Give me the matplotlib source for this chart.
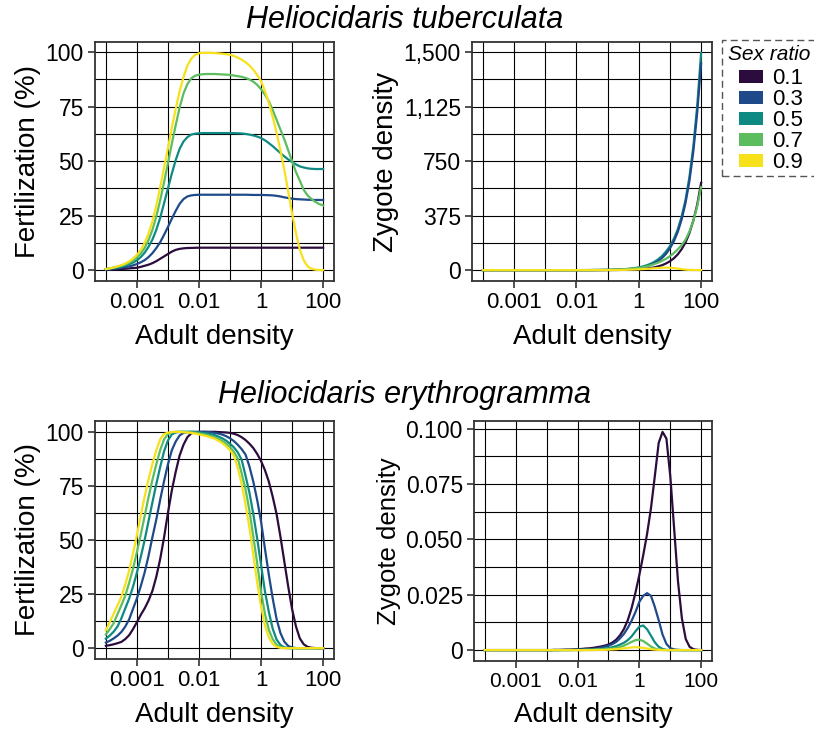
import matplotlib.pyplot as plt
import numpy as np
from matplotlib.patches import Patch, Rectangle
from matplotlib.ticker import FixedLocator, NullFormatter

plt.rcParams['font.family'] = ['Liberation Sans', 'DejaVu Sans']

# log10 de la densidad de adultos donde se leyeron los valores (paso de 1/8 de decada)
log_densidad = [-5, -4.875, -4.75, -4.625, -4.5, -4.375, -4.25, -4.125,
                -4, -3.875, -3.75, -3.625, -3.5, -3.375, -3.25, -3.125,
                -3, -2.875, -2.75, -2.625, -2.5, -2.375, -2.25, -2.125,
                -2, -1.875, -1.75, -1.625, -1.5, -1.375, -1.25, -1.125,
                -1, -0.875, -0.75, -0.625, -0.5, -0.375, -0.25, -0.125,
                0, 0.125, 0.25, 0.375, 0.5, 0.625, 0.75, 0.875,
                1, 1.125, 1.25, 1.375, 1.5, 1.625, 1.75, 1.875, 2]

proporcion_sexos = ['0.1', '0.3', '0.5', '0.7', '0.9']
colores = ['#2b0c3d', '#1f4a8a', '#0f8a83', '#5cbd5f', '#f7e11b']

# Heliocidaris tuberculata - fertilizacion (%)
tub_fert_01 = [0.2, 0.25, 0.3, 0.4, 0.5, 0.65, 0.8, 0.95,
               1.1, 1.5, 2.0, 2.5, 3.2, 4.1, 5.2, 6.3,
               7.4, 8.5, 9.3, 9.75, 10.0, 10.15, 10.2, 10.25,
               10.3, 10.3, 10.3, 10.3, 10.3, 10.3, 10.3, 10.3,
               10.3, 10.3, 10.3, 10.3, 10.3, 10.3, 10.3, 10.3,
               10.3, 10.3, 10.3, 10.3, 10.3, 10.3, 10.3, 10.3,
               10.3, 10.3, 10.3, 10.3, 10.3, 10.3, 10.3, 10.3, 10.3]
tub_fert_03 = [0.3, 0.4, 0.6, 0.8, 1.1, 1.4, 1.7, 2.2,
               2.8, 3.6, 4.6, 6.0, 7.8, 10.1, 12.8, 16.2,
               19.8, 23.6, 27.2, 30.4, 32.6, 33.8, 34.3, 34.5,
               34.6, 34.6, 34.6, 34.6, 34.6, 34.6, 34.6, 34.6,
               34.6, 34.6, 34.6, 34.6, 34.6, 34.55, 34.5, 34.5,
               34.5, 34.45, 34.4, 34.3, 34.1, 33.8, 33.4, 33.1,
               32.8, 32.6, 32.5, 32.4, 32.3, 32.25, 32.2, 32.2, 32.2]
tub_fert_05 = [0.5, 0.7, 1.0, 1.2, 1.6, 2.1, 2.7, 3.5,
               4.5, 6.0, 8.0, 10.7, 14.0, 18.5, 24.0, 30.7,
               37.5, 44.3, 50.5, 55.6, 59.0, 61.0, 62.2, 62.6,
               62.8, 62.9, 62.9, 62.9, 62.9, 62.9, 62.9, 62.9,
               62.9, 62.85, 62.8, 62.7, 62.5, 62.2, 61.8, 61.3,
               60.6, 59.6, 58.3, 56.9, 55.3, 53.7, 52.2, 50.8,
               49.6, 48.5, 47.6, 47.1, 46.7, 46.5, 46.4, 46.4, 46.4]
tub_fert_07 = [0.5, 0.8, 1.2, 1.6, 2.0, 2.6, 3.4, 4.4,
               5.8, 7.6, 10.2, 13.8, 18.5, 24.6, 32.0, 40.3,
               49.0, 58.0, 66.5, 74.5, 81.0, 85.3, 88.0, 89.2,
               89.7, 89.9, 90.0, 90.0, 90.0, 89.9, 89.8, 89.7,
               89.6, 89.3, 89.0, 88.7, 88.2, 87.5, 86.5, 85.0,
               83.0, 80.5, 77.5, 73.5, 69.0, 64.5, 60.0, 55.0,
               50.0, 45.0, 41.0, 36.8, 34.3, 32.6, 31.3, 30.3, 29.7]
tub_fert_09 = [0.5, 0.8, 1.2, 1.7, 2.3, 3.0, 4.0, 5.3,
               7.0, 9.3, 12.5, 16.8, 22.4, 29.6, 38.0, 47.0,
               56.0, 65.3, 74.0, 82.0, 88.5, 93.8, 97.0, 98.8,
               99.5, 99.7, 99.7, 99.7, 99.6, 99.5, 99.3, 99.1,
               98.8, 98.3, 97.5, 96.6, 95.4, 93.9, 92.0, 89.6,
               86.7, 82.2, 76.7, 70.3, 63.0, 54.8, 46.0, 36.0,
               26.0, 17.0, 9.3, 4.5, 1.7, 0.6, 0.2, 0.05, 0.0]

# Heliocidaris tuberculata - densidad de cigotos
tub_cig_01 = [0, 0, 0, 0, 0, 0, 0, 0,
              0, 0, 0, 0, 0, 0, 0, 0,
              0, 0, 0, 0, 0, 0, 0, 0,
              0.1, 0.1, 0.1, 0.15, 0.2, 0.3, 0.4, 0.5,
              0.6, 0.8, 1.1, 1.5, 1.9, 2.5, 3.4, 4.5,
              6, 8.1, 11, 14.5, 19, 26, 34, 46,
              61, 81, 108, 144, 190, 255, 340, 450, 600]
tub_cig_03 = [0, 0, 0, 0, 0, 0, 0, 0,
              0, 0, 0, 0, 0, 0, 0, 0,
              0, 0, 0, 0, 0.1, 0.1, 0.1, 0.15,
              0.2, 0.25, 0.3, 0.4, 0.5, 0.7, 0.9, 1.2,
              1.5, 2.0, 2.7, 3.5, 4.6, 6.2, 8.2, 11,
              15, 20, 26, 36, 48, 63, 84, 112,
              150, 198, 262, 348, 462, 613, 815, 1082, 1420]
tub_cig_05 = [0, 0, 0, 0, 0, 0, 0, 0,
              0, 0, 0, 0, 0, 0, 0, 0,
              0, 0, 0, 0, 0.1, 0.1, 0.15, 0.2,
              0.2, 0.3, 0.35, 0.45, 0.6, 0.8, 1.1, 1.4,
              1.9, 2.5, 3.4, 4.5, 6.0, 8.0, 10.6, 14.2,
              19, 25, 33, 43.5, 57, 75, 98, 128,
              165, 215, 280, 368, 483, 640, 850, 1128, 1495]
tub_cig_07 = [0, 0, 0, 0, 0, 0, 0, 0,
              0, 0, 0, 0, 0, 0, 0, 0,
              0, 0, 0, 0, 0.05, 0.07, 0.1, 0.13,
              0.17, 0.23, 0.3, 0.4, 0.55, 0.72, 0.97, 1.3,
              1.73, 2.3, 3.05, 4.05, 5.4, 7.1, 9.4, 12.4,
              16, 20.6, 26.2, 33.2, 42, 52, 64, 78,
              96, 117, 143, 172, 209, 265, 339, 438, 572]
tub_cig_09 = [0, 0, 0, 0, 0, 0, 0, 0,
              0, 0, 0, 0, 0, 0, 0, 0,
              0, 0, 0, 0, 0, 0, 0, 0,
              0.06, 0.08, 0.11, 0.15, 0.2, 0.27, 0.35, 0.47,
              0.63, 0.83, 1.1, 1.46, 1.94, 2.5, 3.3, 4.3,
              5.6, 7.1, 8.8, 10.8, 12.8, 14.8, 16.6, 17.3,
              16.7, 14.5, 10.6, 6.8, 3.4, 1.6, 0.9, 0.5, 0.3]

# Heliocidaris erythrogramma - fertilizacion (%)
ery_fert_01 = [1.1, 1.4, 1.8, 2.3, 2.9, 4.2, 6.0, 8.8,
               12.0, 15.4, 18.4, 22.0, 26.5, 33.0, 41.2, 51.2,
               62.5, 72.9, 81.5, 89.0, 94.0, 97.5, 99.3, 99.8,
               99.9, 100, 100, 100, 100, 99.9, 99.8, 99.7,
               99.5, 99.1, 98.5, 97.5, 96.2, 94.5, 92.5, 89.8,
               86.5, 82.3, 77.0, 70.0, 62.0, 51.5, 40.0, 28.5,
               18.0, 10.0, 4.5, 1.8, 0.6, 0.2, 0.05, 0.0, 0.0]
ery_fert_03 = [2.6, 3.4, 4.5, 5.8, 7.5, 10.0, 13.3, 18.2,
               23.0, 28.7, 35.0, 42.7, 51.3, 59.5, 68.6, 77.2,
               85.0, 91.5, 95.5, 98.3, 99.5, 99.9, 100, 100,
               100, 100, 99.9, 99.8, 99.5, 99.2, 98.7, 98.0,
               97.0, 95.7, 94.0, 92.0, 89.5, 84.0, 77.0, 68.5,
               58.5, 46.0, 34.0, 23.0, 13.5, 7.0, 3.0, 1.0,
               0.3, 0.05, 0, 0, 0, 0, 0, 0, 0]
ery_fert_05 = [4.4, 5.8, 7.6, 10.0, 13.8, 18.4, 22.9, 28.4,
               34.9, 42.2, 50.0, 58.7, 67.4, 75.9, 83.7, 91.0,
               96.0, 98.8, 99.7, 100, 100, 100, 100, 99.9,
               99.7, 99.5, 99.3, 99.0, 98.5, 97.8, 97.0, 95.9,
               94.5, 92.8, 90.5, 87.1, 79.7, 71.9, 62.0, 50.7,
               38.5, 26.3, 16.8, 9.0, 4.0, 1.5, 0.4, 0.1,
               0.02, 0, 0, 0, 0, 0, 0, 0, 0]
ery_fert_07 = [6.3, 8.8, 11.5, 15.7, 19.9, 24.2, 30.2, 36.7,
               44.4, 52.5, 61.1, 69.8, 77.8, 85.0, 91.5, 96.5,
               99.0, 99.8, 100, 100, 100, 99.9, 99.8, 99.6,
               99.3, 99.0, 98.6, 98.1, 97.5, 96.7, 95.8, 94.5,
               93.0, 90.7, 87.7, 80.8, 73.4, 63.7, 51.6, 39.4,
               26.1, 15.9, 8.5, 4.2, 1.6, 0.5, 0.1, 0.0,
               0, 0, 0, 0, 0, 0, 0, 0, 0]
ery_fert_09 = [8.3, 12.0, 15.9, 19.8, 23.8, 29.4, 35.9, 43.8,
               52.2, 61.5, 70.1, 78.1, 85.2, 91.5, 96.5, 99.0,
               99.6, 99.9, 100, 100, 99.8, 99.7, 99.5, 99.2,
               98.8, 98.4, 98.0, 97.4, 96.8, 95.9, 94.8, 93.3,
               91.5, 89.0, 83.3, 75.9, 66.4, 55.8, 43.3, 30.3,
               19.4, 10.5, 5.0, 2.0, 0.6, 0.15, 0.03, 0.0,
               0, 0, 0, 0, 0, 0, 0, 0, 0]

# Heliocidaris erythrogramma - densidad de cigotos
ery_cig_01 = [0, 0, 0, 0, 0, 0, 0, 0,
              0, 0, 0, 0, 0, 0, 0, 0,
              0, 0, 0.0001, 0.0001, 0.0001, 0.0002, 0.0002, 0.0003,
              0.0004, 0.0005, 0.0007, 0.0008, 0.001, 0.0013, 0.0016, 0.002,
              0.0025, 0.0034, 0.0047, 0.0067, 0.0095, 0.0135, 0.019, 0.026,
              0.034, 0.0428, 0.0525, 0.064, 0.0785, 0.0935, 0.0985, 0.0955,
              0.0786, 0.0548, 0.031, 0.0144, 0.005, 0.0015, 0.0004, 0.0001, 0]
ery_cig_03 = [0, 0, 0, 0, 0, 0, 0, 0,
              0, 0, 0, 0, 0, 0, 0, 0,
              0, 0, 0, 0, 0.0001, 0.0001, 0.0001, 0.0001,
              0.0002, 0.0002, 0.0003, 0.0004, 0.0005, 0.0007, 0.0011, 0.0015,
              0.002, 0.0027, 0.0037, 0.0053, 0.0073, 0.01, 0.0133, 0.0172,
              0.0218, 0.0245, 0.0257, 0.0245, 0.0195, 0.0135, 0.007, 0.0028,
              0.0009, 0.0003, 0.0001, 0, 0, 0, 0, 0, 0]
ery_cig_05 = [0, 0, 0, 0, 0, 0, 0, 0,
              0, 0, 0, 0, 0, 0, 0, 0,
              0, 0, 0, 0, 0, 0, 0, 0.0001,
              0.0001, 0.0001, 0.0001, 0.0002, 0.0003, 0.0004, 0.0005, 0.0007,
              0.0009, 0.0013, 0.0018, 0.0025, 0.0033, 0.0045, 0.0062, 0.0085,
              0.0106, 0.0111, 0.0094, 0.0065, 0.0035, 0.0015, 0.0005, 0.0001,
              0, 0, 0, 0, 0, 0, 0, 0, 0]
ery_cig_07 = [0, 0, 0, 0, 0, 0, 0, 0,
              0, 0, 0, 0, 0, 0, 0, 0,
              0, 0, 0, 0, 0, 0, 0, 0,
              0, 0, 0.0001, 0.0001, 0.0001, 0.0002, 0.0002, 0.0003,
              0.0005, 0.0007, 0.001, 0.0014, 0.002, 0.0028, 0.0037, 0.0045,
              0.0047, 0.0041, 0.0029, 0.0016, 0.0007, 0.0002, 0.0001, 0,
              0, 0, 0, 0, 0, 0, 0, 0, 0]
ery_cig_09 = [0, 0, 0, 0, 0, 0, 0, 0,
              0, 0, 0, 0, 0, 0, 0, 0,
              0, 0, 0, 0, 0, 0, 0, 0,
              0, 0, 0, 0, 0, 0.0001, 0.0001, 0.0001,
              0.0002, 0.0003, 0.0004, 0.0006, 0.0008, 0.001, 0.0012, 0.0013,
              0.0012, 0.001, 0.0007, 0.0004, 0.0002, 0.0001, 0, 0,
              0, 0, 0, 0, 0, 0, 0, 0, 0]

x_ticks = [1e-4, 1e-2, 1, 1e2]
x_tick_labels = ['0.001', '0.01', '1', '100']
x_grid_menor = [1e-5, 1e-3, 1e-1, 1e1]


def estilo(ax, yticks, ylabels, ylabel, ylabel_size=20, xtick_size=16):
    ax.set_xscale('log')
    ax.set_xticks(x_ticks)
    ax.set_xticklabels(x_tick_labels)
    ax.xaxis.set_minor_locator(FixedLocator(x_grid_menor))
    ax.xaxis.set_minor_formatter(NullFormatter())
    ax.set_yticks(yticks)
    ax.set_yticklabels(ylabels)
    medios = [(a + b) / 2 for a, b in zip(yticks[:-1], yticks[1:])]
    ax.yaxis.set_minor_locator(FixedLocator(medios))
    ax.grid(True, which='both', color='black', lw=0.8)
    ax.set_axisbelow(True)
    ax.tick_params(which='minor', length=0)
    ax.tick_params(which='major', length=5, width=1.2, color='#333333', pad=3)
    ax.tick_params(axis='y', labelsize=16.5)
    ax.tick_params(axis='x', labelsize=xtick_size)
    for s in ax.spines.values():
        s.set_color('#333333')
        s.set_linewidth(1.3)
    ax.set_xlabel('Adult density', fontsize=20, labelpad=8)
    ax.set_ylabel(ylabel, fontsize=ylabel_size, labelpad=3)


fig = plt.figure(figsize=(8.14, 7.3), dpi=100)
W, H = 814, 730
ax_tl = fig.add_axes([95 / W, 1 - 281 / H, 239 / W, 239 / H])
ax_tr = fig.add_axes([472 / W, 1 - 281 / H, 240 / W, 239 / H])
ax_bl = fig.add_axes([95 / W, 1 - 659 / H, 239 / W, 238 / H])
ax_br = fig.add_axes([474 / W, 1 - 661 / H, 238 / W, 240 / H])

dens = 10.0 ** np.array(log_densidad)

series_tl = [tub_fert_01, tub_fert_03, tub_fert_05, tub_fert_07, tub_fert_09]
series_tr = [tub_cig_01, tub_cig_03, tub_cig_05, tub_cig_07, tub_cig_09]
series_bl = [ery_fert_01, ery_fert_03, ery_fert_05, ery_fert_07, ery_fert_09]
series_br = [ery_cig_01, ery_cig_03, ery_cig_05, ery_cig_07, ery_cig_09]
orden_tr = [2.0, 2.6, 2.5, 2.7, 2.8]  # la linea 0.3 se ve encima de la 0.5

for i in range(5):
    ax_tl.plot(dens, series_tl[i], color=colores[i], lw=1.6)
    ax_tr.plot(dens, series_tr[i], color=colores[i], lw=1.6, zorder=orden_tr[i])
    ax_bl.plot(dens, series_bl[i], color=colores[i], lw=1.6)
    ax_br.plot(dens, series_br[i], color=colores[i], lw=1.6)

estilo(ax_tl, [0, 25, 50, 75, 100], ['0', '25', '50', '75', '100'], 'Fertilization (%)')
estilo(ax_tr, [0, 375, 750, 1125, 1500], ['0', '375', '750', '1,125', '1,500'], 'Zygote density')
estilo(ax_bl, [0, 25, 50, 75, 100], ['0', '25', '50', '75', '100'], 'Fertilization (%)')
estilo(ax_br, [0, 0.025, 0.05, 0.075, 0.1], ['0', '0.025', '0.050', '0.075', '0.100'],
       'Zygote density', ylabel_size=18.5, xtick_size=15)

fig.text(405 / W, 1 - 20 / H, 'Heliocidaris tuberculata', style='italic', fontsize=22,
         ha='center', va='center')
fig.text(404 / W, 1 - 395 / H, 'Heliocidaris erythrogramma', style='italic', fontsize=22,
         ha='center', va='center')

# leyenda: caja discontinua, titulo en cursiva y claves de color
fig.patches.append(Rectangle((722 / W, 1 - 176 / H), 110 / W, 136 / H, fill=False,
                             ec='#555555', lw=1.0, ls=(0, (5, 3)),
                             transform=fig.transFigure, figure=fig))
fig.text(728 / W, 1 - 55 / H, 'Sex ratio', style='italic', fontsize=15, ha='left', va='center')
handles = [Patch(facecolor=c, edgecolor='none') for c in colores]
fig.legend(handles, proporcion_sexos, loc='upper left', bbox_to_anchor=(739 / W, 1 - 68.3 / H),
           fontsize=16, frameon=False, borderpad=0, borderaxespad=0,
           handlelength=1.08, handleheight=0.54, handletextpad=0.4, labelspacing=0.0)

fig.savefig('out.png', dpi=100)
